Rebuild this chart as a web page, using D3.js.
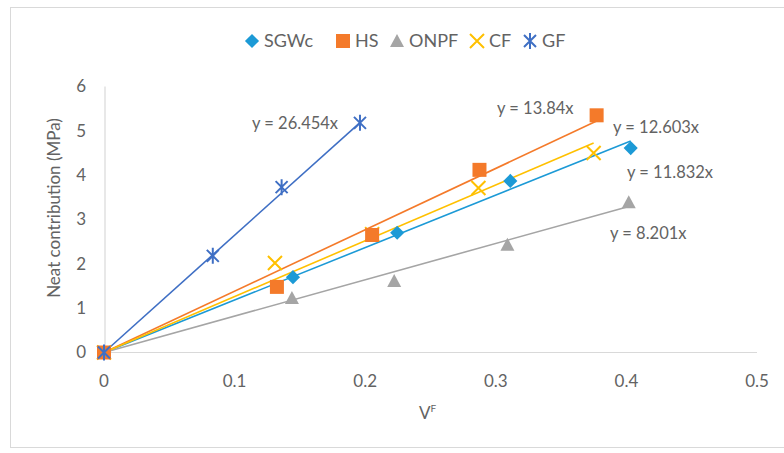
<!DOCTYPE html>
<html><head><meta charset="utf-8">
<script src="https://cdn.jsdelivr.net/npm/d3@7"></script>
<style>body{margin:0;background:#fff}svg{display:block;font-family:Lato,"Open Sans",sans-serif}</style>
</head><body><svg id="c" width="784" height="453"></svg>
<script>
const seriesNames = ["SGWc","HS","ONPF","CF","GF"];
const sgwcX = [0, 0.1447, 0.2245, 0.3111, 0.4033];
const sgwcY = [0, 1.70, 2.70, 3.87, 4.61];
const hsX = [0, 0.1324, 0.2053, 0.2875, 0.3772];
const hsY = [0, 1.48, 2.65, 4.12, 5.35];
const onpfX = [0, 0.1439, 0.2222, 0.3089, 0.4018];
const onpfY = [0, 1.23, 1.61, 2.43, 3.39];
const cfX = [0, 0.1309, 0.2053, 0.2867, 0.3749];
const cfY = [0, 2.02, 2.67, 3.71, 4.50];
const gfX = [0, 0.0833, 0.136, 0.196];
const gfY = [0, 2.18, 3.73, 5.18];
const slopes = [11.832, 13.84, 8.201, 12.603, 26.454];
const trendLabels = ["y = 11.832x","y = 13.84x","y = 8.201x","y = 12.603x","y = 26.454x"];
const xTicks = [0, 0.1, 0.2, 0.3, 0.4, 0.5];
const yTicks = [0, 1, 2, 3, 4, 5, 6];

const colors = ["#1C9AD6","#F47A2A","#A5A5A5","#FFC000","#3F6FC4"];
const labelPos = [[627,178],[497,114],[610,239],[613,133],[252,129]];

const svg = d3.select("#c");
svg.append("rect").attr("x",10.5).attr("y",7.5).attr("width",800).attr("height",440)
  .attr("fill","#fff").attr("stroke","#d9d9d9");

const x = d3.scaleLinear().domain([0,0.5]).range([104,757]);
const y = d3.scaleLinear().domain([0,6]).range([352.5,86.5]);

svg.append("line").attr("x1",x(0)).attr("x2",x(0.5)).attr("y1",y(0)).attr("y2",y(0)).attr("stroke","#d9d9d9").attr("stroke-width",1.2);
svg.append("line").attr("x1",x(0)+1).attr("x2",x(0)+1).attr("y1",y(0)).attr("y2",y(6)).attr("stroke","#d9d9d9").attr("stroke-width",1.2);

const tc = "#636363";
svg.append("g").selectAll("text").data(xTicks).join("text")
  .attr("x",d=>x(d)).attr("y",387).attr("text-anchor","middle").attr("font-size",17).attr("fill",tc)
  .text(d=>d3.format("")(d));
svg.append("g").selectAll("text").data(yTicks).join("text")
  .attr("x",86).attr("y",d=>y(d)).attr("dy","0.35em").attr("text-anchor","end").attr("font-size",17).attr("fill",tc)
  .text(d=>d);

svg.append("text").attr("transform","translate(60,208) rotate(-90)").attr("text-anchor","middle")
  .attr("font-size",17).attr("fill",tc).text("Neat contribution (MPa)");
const xt = svg.append("text").attr("x",419).attr("y",419).attr("font-size",17).attr("fill",tc);
xt.append("tspan").text("V");
xt.append("tspan").attr("font-size",10).attr("dy",-7).text("F");

const data = [[sgwcX,sgwcY],[hsX,hsY],[onpfX,onpfY],[cfX,cfY],[gfX,gfY]];

data.forEach((s,i)=>{
  const xm = d3.max(s[0]);
  svg.append("line").attr("x1",x(0)).attr("y1",y(0)).attr("x2",x(xm)).attr("y2",y(slopes[i]*xm))
    .attr("stroke",colors[i]).attr("stroke-width",1.6);
});

function marker(g,i,cx,cy){
  const c = colors[i];
  if(i===0){
    g.append("rect").attr("x",-5).attr("y",-5).attr("width",10).attr("height",10)
      .attr("transform",`translate(${cx},${cy}) rotate(45)`).attr("fill",c);
  } else if(i===1){
    g.append("rect").attr("x",cx-7).attr("y",cy-7).attr("width",14).attr("height",14).attr("fill",c);
  } else if(i===2){
    g.append("path").attr("d",`M${cx},${cy-7}L${cx+7},${cy+6}L${cx-7},${cy+6}Z`).attr("fill",c);
  } else if(i===3){
    g.append("path").attr("d",`M${cx-7},${cy-7}L${cx+7},${cy+7}M${cx+7},${cy-7}L${cx-7},${cy+7}`)
      .attr("stroke",c).attr("stroke-width",2);
  } else {
    g.append("path").attr("d",`M${cx-6},${cy-6}L${cx+6},${cy+6}M${cx+6},${cy-6}L${cx-6},${cy+6}M${cx},${cy-8}L${cx},${cy+8}`)
      .attr("stroke",c).attr("stroke-width",2);
  }
}

const order = [0,2,3,1,4];
order.forEach(i=>{
  const g = svg.append("g");
  data[i][0].forEach((xv,k)=>marker(g,i,x(xv),y(data[i][1][k])));
});

trendLabels.forEach((t,i)=>{
  svg.append("text").attr("x",labelPos[i][0]).attr("y",labelPos[i][1]).attr("font-size",16.5)
    .attr("fill",tc).text(t);
});

const legX = [252,343,397,477,530];
const lg = svg.append("g");
seriesNames.forEach((n,i)=>{
  marker(lg,i,legX[i],41);
  lg.append("text").attr("x",legX[i]+12).attr("y",41).attr("dy","0.35em").attr("font-size",18)
    .attr("fill",tc).text(n);
});
</script></body></html>
